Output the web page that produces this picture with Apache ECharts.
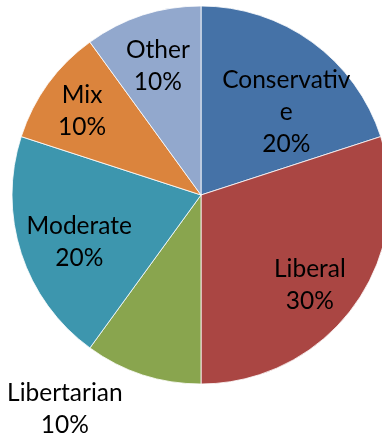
<!DOCTYPE html>
<html>
<head>
<meta charset="utf-8">
<script src="https://cdn.jsdelivr.net/npm/echarts@6/dist/echarts.min.js"></script>
<style>
  html, body { margin: 0; padding: 0; background: #fff; }
  #chart { width: 382px; height: 438px; }
</style>
</head>
<body>
<div id="chart"></div>
<script>
// Share of respondents by political leaning
const categories = ['Conservative', 'Liberal', 'Libertarian', 'Moderate', 'Mix', 'Other'];
const shares = [20, 30, 10, 20, 10, 10];
const colors = ['#4572A7', '#AA4643', '#89A54E', '#3D96AE', '#DB843D', '#92A8CD'];
// label nudges away from the default inner anchor point
const labelShift = [[28, -4], [30, 33], [-106, 121], [-29, 17], [-40, -27], [-13, -36]];

const chart = echarts.init(document.getElementById('chart'), null, { renderer: 'canvas' });

chart.setOption({
  animation: false,
  series: [{
    type: 'pie',
    center: [201, 195],
    radius: [0, 189],
    startAngle: 90,
    clockwise: true,
    data: categories.map((name, i) => ({
      name,
      value: shares[i],
      itemStyle: { color: colors[i] }
    })),
    itemStyle: { borderColor: '#ffffff', borderWidth: 0.8 },
    label: {
      show: true,
      position: 'inside',
      formatter: '{b}\n{d}%',
      color: '#000',
      fontFamily: 'Lato',
      fontSize: 24.5,
      lineHeight: 32,
      width: 134,
      overflow: 'breakAll',
      align: 'center'
    },
    labelLine: { show: false },
    labelLayout: p => ({ dx: labelShift[p.dataIndex][0], dy: labelShift[p.dataIndex][1] })
  }]
});
</script>
</body>
</html>
